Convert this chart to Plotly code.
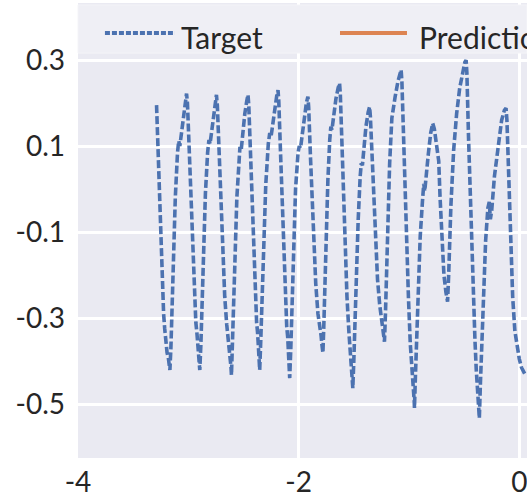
import plotly.graph_objects as go

# Target signal (x, y)
target_x = [
    -3.288, -3.281, -3.262, -3.240, -3.224, -3.214, -3.209, -3.199, -3.193, -3.180, -3.172, -3.167,
    -3.158, -3.140, -3.118, -3.098, -3.087, -3.077, -3.065, -3.045, -3.028, -3.016,
    -3.008, -2.992, -2.968, -2.946, -2.932, -2.922, -2.918, -2.909, -2.904, -2.899, -2.896,
    -2.886, -2.866, -2.845, -2.825, -2.813, -2.803, -2.792, -2.770, -2.755, -2.745,
    -2.737, -2.720, -2.695, -2.670, -2.652, -2.641, -2.636, -2.626, -2.620, -2.613, -2.609,
    -2.600, -2.580, -2.560, -2.542, -2.532, -2.521, -2.510, -2.488, -2.470, -2.459,
    -2.452, -2.437, -2.415, -2.395, -2.381, -2.372, -2.368, -2.361, -2.358, -2.355, -2.353,
    -2.343, -2.320, -2.298, -2.275, -2.262, -2.250, -2.236, -2.215, -2.198, -2.187,
    -2.180, -2.165, -2.143, -2.122, -2.108, -2.099, -2.095, -2.089, -2.086, -2.083, -2.081,
    -2.071, -2.050, -2.028, -2.005, -1.994, -1.983, -1.970, -1.948, -1.930, -1.916,
    -1.909, -1.892, -1.868, -1.845, -1.825, -1.812, -1.806, -1.797, -1.790, -1.784, -1.780,
    -1.772, -1.755, -1.735, -1.718, -1.708, -1.698, -1.685, -1.662, -1.642, -1.629,
    -1.622, -1.608, -1.585, -1.562, -1.545, -1.536, -1.530, -1.522, -1.517, -1.512, -1.509,
    -1.500, -1.480, -1.460, -1.442, -1.432, -1.422, -1.410, -1.390, -1.370, -1.357,
    -1.350, -1.333, -1.310, -1.285, -1.265, -1.253, -1.246, -1.238, -1.232, -1.226, -1.222,
    -1.213, -1.195, -1.175, -1.155, -1.140, -1.125, -1.100, -1.084, -1.071,
    -1.064, -1.050, -1.028, -1.005, -0.988, -0.978, -0.970, -0.962, -0.956, -0.952, -0.950,
    -0.942, -0.920, -0.898, -0.878, -0.866, -0.857, -0.848, -0.825, -0.803, -0.785,
    -0.770, -0.752, -0.738, -0.730, -0.718, -0.700, -0.683, -0.665, -0.650,
    -0.640, -0.620, -0.595, -0.568, -0.540, -0.512, -0.493, -0.482,
    -0.475, -0.460, -0.440, -0.420, -0.402, -0.390, -0.382, -0.374, -0.369, -0.365, -0.362,
    -0.352, -0.330, -0.305, -0.285, -0.272, -0.262, -0.250, -0.225, -0.190, -0.160, -0.135, -0.120,
    -0.112, -0.098, -0.080, -0.060, -0.040, -0.020, 0.000, 0.020, 0.050,
]
target_y = [
    0.195, 0.140, -0.020, -0.190, -0.290, -0.325, -0.345, -0.355, -0.380, -0.395, -0.410, -0.421,
    -0.370, -0.200, -0.020, 0.085, 0.112, 0.100, 0.125, 0.175, 0.205, 0.222,
    0.200, 0.090, -0.090, -0.240, -0.310, -0.335, -0.352, -0.365, -0.390, -0.405, -0.421,
    -0.360, -0.180, -0.010, 0.085, 0.114, 0.105, 0.130, 0.180, 0.205, 0.219,
    0.195, 0.080, -0.100, -0.250, -0.315, -0.340, -0.360, -0.370, -0.395, -0.415, -0.433,
    -0.370, -0.190, -0.020, 0.075, 0.098, 0.090, 0.120, 0.175, 0.205, 0.219,
    0.195, 0.080, -0.100, -0.245, -0.310, -0.335, -0.355, -0.365, -0.390, -0.405, -0.421,
    -0.350, -0.150, 0.010, 0.105, 0.130, 0.122, 0.150, 0.195, 0.218, 0.230,
    0.205, 0.090, -0.090, -0.250, -0.320, -0.345, -0.365, -0.375, -0.400, -0.420, -0.440,
    -0.370, -0.170, 0.000, 0.085, 0.100, 0.095, 0.125, 0.175, 0.200, 0.215,
    0.190, 0.070, -0.100, -0.220, -0.290, -0.310, -0.330, -0.340, -0.360, -0.370, -0.381,
    -0.320, -0.140, 0.020, 0.115, 0.145, 0.138, 0.165, 0.210, 0.235, 0.246,
    0.220, 0.100, -0.090, -0.250, -0.330, -0.360, -0.385, -0.400, -0.425, -0.445, -0.463,
    -0.400, -0.220, -0.070, 0.030, 0.060, 0.055, 0.090, 0.145, 0.178, 0.191,
    0.170, 0.060, -0.090, -0.210, -0.270, -0.290, -0.310, -0.320, -0.335, -0.345, -0.355,
    -0.290, -0.100, 0.060, 0.165, 0.195, 0.215, 0.250, 0.268, 0.277,
    0.250, 0.120, -0.080, -0.250, -0.360, -0.410, -0.435, -0.455, -0.480, -0.495, -0.509,
    -0.440, -0.260, -0.110, -0.030, 0.012, -0.005, 0.025, 0.080, 0.130, 0.153,
    0.140, 0.100, 0.085, 0.065, -0.020, -0.120, -0.200, -0.240, -0.262,
    -0.200, -0.040, 0.090, 0.175, 0.235, 0.278, 0.295, 0.300,
    0.270, 0.120, -0.060, -0.220, -0.350, -0.420, -0.450, -0.470, -0.495, -0.515, -0.533,
    -0.450, -0.280, -0.120, -0.045, -0.030, -0.070, -0.050, 0.030, 0.110, 0.160, 0.183, 0.188,
    0.160, 0.030, -0.120, -0.250, -0.330, -0.370, -0.395, -0.415, -0.430,
]

y_tick_vals = [0.3, 0.1, -0.1, -0.3, -0.5]
y_tick_text = ["0.3", "0.1", "-0.1", "-0.3", "-0.5"]
x_tick_vals = [-4, -2, 0]
x_tick_text = ["-4", "-2", "0"]

legend_names = ["Target", "Prediction"]
blue = "#4C72B0"
orange = "#DD8452"
font_family = "Lato, 'Open Sans', sans-serif"

fig = go.Figure()
fig.add_trace(go.Scatter(
    x=target_x, y=target_y, mode="lines", name=legend_names[0],
    line=dict(color=blue, width=3.6, dash="8px,3px"),
    showlegend=False,
))

# Legend panel across the top of the plot area
fig.add_shape(type="rect", xref="paper", yref="paper", x0=0, x1=1, y0=0.890, y1=0.9956,
              fillcolor="#EFEFF5", line=dict(color="#F4F4F8", width=1), layer="above")
fig.add_shape(type="line", xref="paper", yref="paper", x0=0.060, x1=0.216, y0=0.934, y1=0.934,
              line=dict(color=blue, width=4, dash="5px,2px"), layer="above")
fig.add_shape(type="line", xref="paper", yref="paper", x0=0.5835, x1=0.7327, y0=0.934, y1=0.934,
              line=dict(color=orange, width=4), layer="above")
fig.add_annotation(text=legend_names[0], xref="paper", yref="paper", x=0.225, y=0.9253,
                   xanchor="left", yanchor="middle", showarrow=False,
                   font=dict(family=font_family, size=30, color="#262626"))
fig.add_annotation(text=legend_names[1], xref="paper", yref="paper", x=0.755, y=0.9253,
                   xanchor="left", yanchor="middle", showarrow=False,
                   font=dict(family=font_family, size=30, color="#262626"))

fig.update_layout(
    width=527, height=497,
    margin=dict(l=78, r=0, t=3, b=39),
    paper_bgcolor="white",
    plot_bgcolor="#EAEAF2",
    font=dict(family=font_family, size=28, color="#262626"),
    xaxis=dict(range=[-4, 0.07], tickvals=x_tick_vals, ticktext=x_tick_text,
               showgrid=True, gridcolor="white", gridwidth=3, zeroline=False,
               ticks="", ticklabelstandoff=5, showline=False,
               ticklabeloverflow="allow"),
    yaxis=dict(range=[-0.6256, 0.4326], tickvals=y_tick_vals, ticktext=y_tick_text,
               showgrid=True, gridcolor="white", gridwidth=3, zeroline=False,
               ticks="", ticklabelstandoff=12, showline=False),
)

fig.write_html("out.html")
